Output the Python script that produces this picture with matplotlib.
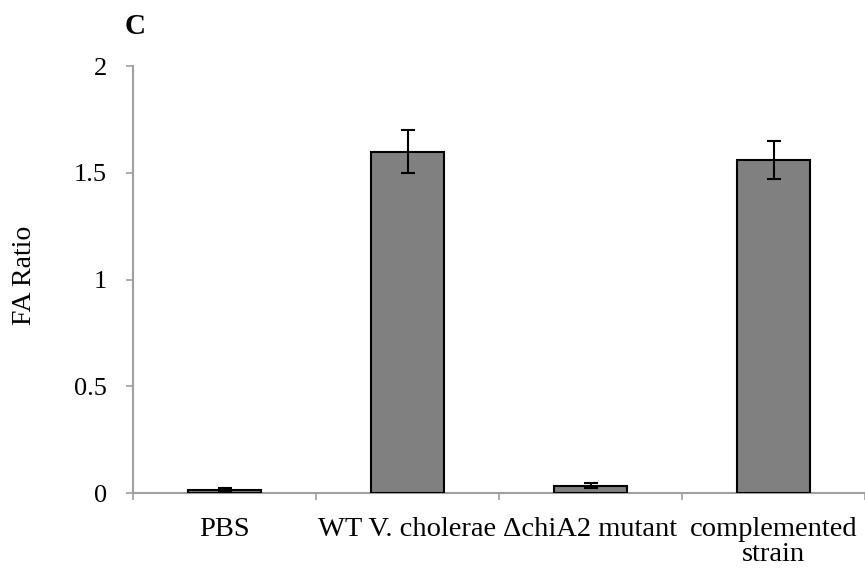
import numpy as np
import matplotlib
matplotlib.use("Agg")
import matplotlib.pyplot as plt

plt.rcParams['font.family'] = ['Liberation Serif', 'DejaVu Serif']

groups = ['PBS', 'WT V. cholerae', '\u0394chiA2 mutant', 'complemented\nstrain']
fa_ratio = [0.013, 1.6, 0.035, 1.56]
fa_err = [0.010, 0.10, 0.012, 0.09]

fig = plt.figure(figsize=(8.65, 5.75), dpi=100)
ax = fig.add_axes([0.1538, 0.1426, 0.8462, 0.7424])

x = np.arange(len(groups))
ax.bar(x, fa_ratio, width=0.4, color='#808080', edgecolor='black', linewidth=1.5,
       yerr=fa_err, capsize=4.7, error_kw=dict(elinewidth=1.5, capthick=1.5, ecolor='black'),
       zorder=3)

ax.set_xlim(-0.5, len(groups) - 0.5)
ax.set_ylim(0, 2)
ax.set_yticks([0, 0.5, 1, 1.5, 2])
ax.set_yticklabels(['0', '0.5', '1', '1.5', '2'], fontsize=19)

ax.set_xticks(np.arange(-0.5, len(groups), 1.0))
ax.set_xticklabels([])
ax.set_xticks(x, minor=True)
ax.set_xticklabels(groups, minor=True, fontsize=20.5, linespacing=1.0)
ax.tick_params(axis='x', which='minor', length=0, pad=17)
ax.tick_params(axis='x', which='major', length=5, width=1.2, color='#a0a0a0', direction='out')
ax.tick_params(axis='y', length=5, width=1.2, color='#a0a0a0', pad=14)

for side in ['top', 'right']:
    ax.spines[side].set_visible(False)
for side in ['left', 'bottom']:
    ax.spines[side].set_color('#a0a0a0')
    ax.spines[side].set_linewidth(1.5)

fig.text(25 / 865, 1 - 275 / 575, 'FA Ratio', fontsize=20, rotation=90,
         ha='center', va='center')
fig.text(135 / 865, 1 - 27 / 575, 'C', fontsize=21, fontweight='bold',
         ha='center', va='center')

fig.savefig('out.png', dpi=100)
